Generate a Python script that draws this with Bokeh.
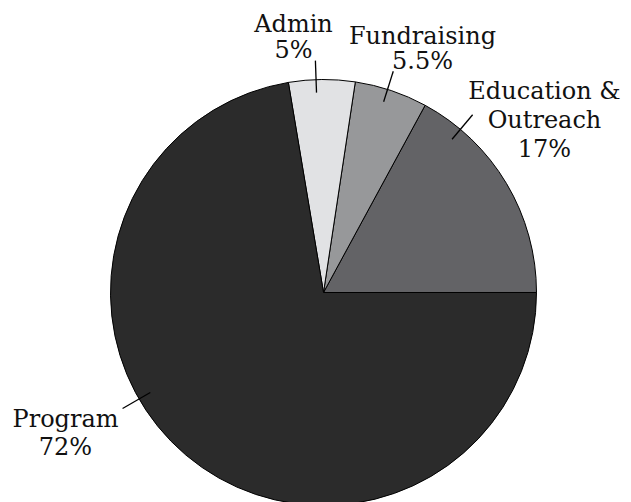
import math
from bokeh.plotting import figure
from bokeh.models import Range1d, ColumnDataSource
from bokeh.core.properties import value
from bokeh.embed import file_html
from bokeh.resources import INLINE

# ---- data ----
categories = ["Education & Outreach", "Fundraising", "Admin", "Program"]
percents = [17, 5.5, 5, 72]
label_lines = [["Education &", "Outreach", "17%"], ["Fundraising", "5.5%"], ["Admin", "5%"], ["Program", "72%"]]
colors = ["#636366", "#97989a", "#e1e2e4", "#2b2b2b"]

# ---- layout (style) ----
R = 213
leader_angles = [50, 72.5, 92, 210]          # degrees
leader_r = (200, 232)
label_pos = [(221, 202), (99, 257), (-30, 269), (-258, -126)]   # centre x, first baseline y
line_step = [29, 25, 26, 28]
FONT = "DejaVu Serif"
FSIZE = "24px"

W, H = 631, 502
p = figure(width=W, height=H, output_backend="svg", toolbar_location=None,
           x_range=Range1d(-323, -323 + W), y_range=Range1d(292 - H, 292),
           min_border=0, outline_line_color=None)
p.axis.visible = False
p.grid.visible = False
p.background_fill_color = "white"
p.border_fill_color = "white"

total = sum(percents)
starts, ends = [], []
acc = 0.0
for v in percents:
    starts.append(acc / total * 2 * math.pi)
    acc += v
    ends.append(acc / total * 2 * math.pi)

src = ColumnDataSource(dict(start=starts, end=ends, color=colors, cat=categories))
p.wedge(x=0, y=0, radius=R, start_angle="start", end_angle="end", fill_color="color",
        line_color="black", line_width=1, source=src)

xs0, ys0, xs1, ys1 = [], [], [], []
for a in leader_angles:
    r = math.radians(a)
    xs0.append(leader_r[0] * math.cos(r)); ys0.append(leader_r[0] * math.sin(r))
    xs1.append(leader_r[1] * math.cos(r)); ys1.append(leader_r[1] * math.sin(r))
p.segment(x0=xs0, y0=ys0, x1=xs1, y1=ys1, line_color="black", line_width=1.3)

tx, ty, tt = [], [], []
for lines, (cx, cy), step in zip(label_lines, label_pos, line_step):
    for i, s in enumerate(lines):
        tx.append(cx); ty.append(cy - i * step); tt.append(s)
p.text(x=tx, y=ty, text=tt, text_align="center", text_baseline="alphabetic",
       text_font=value(FONT), text_font_size=FSIZE, text_color="#111111")

open("out.html", "w").write(file_html(p, INLINE))
